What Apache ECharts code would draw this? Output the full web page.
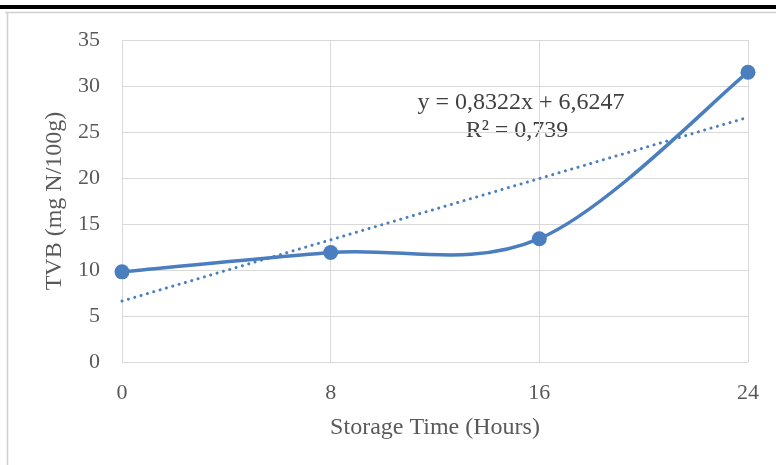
<!DOCTYPE html>
<html><head><meta charset="utf-8">
<script src="https://cdn.jsdelivr.net/npm/echarts@6/dist/echarts.min.js"></script>
<style>html,body{margin:0;padding:0;background:#fff}#c{width:776px;height:465px}</style>
</head><body><div id="c"></div>
<script>
var hours = [0, 8, 16, 24];
var tvb = [9.8, 11.9, 13.4, 31.5];
var trendX = [0, 24];
var trendY = [6.6247, 26.5975];
var xTicks = [0, 8, 16, 24];
var eqText = 'y = 0,8322x + 6,6247';
var r2Text = 'R² = 0,739';

var chart = echarts.init(document.getElementById('c'));
var font = '"Liberation Serif", "Times New Roman", serif';
var blue = '#4a7ebf';
var pts = hours.map(function(x, i){return [x, tvb[i]];});

function renderSmooth(params, api) {
  var i = params.dataIndex, n = pts.length;
  if (i >= n - 1) return null;
  function c(k){ k = Math.max(0, Math.min(n - 1, k)); return api.coord(pts[k]); }
  var p0 = c(i - 1), p1 = c(i), p2 = c(i + 1), p3 = c(i + 2);
  return {
    type: 'bezierCurve',
    shape: {
      x1: p1[0], y1: p1[1], x2: p2[0], y2: p2[1],
      cpx1: p1[0] + (p2[0] - p0[0]) / 6, cpy1: p1[1] + (p2[1] - p0[1]) / 6,
      cpx2: p2[0] - (p3[0] - p1[0]) / 6, cpy2: p2[1] - (p3[1] - p1[1]) / 6
    },
    style: {stroke: blue, lineWidth: 3.5, fill: 'none', lineCap: 'round'}
  };
}

chart.setOption({
  animation: false,
  backgroundColor: '#fff',
  grid: {left: 122, right: 28, top: 40, bottom: 103},
  xAxis: {
    type: 'value', min: 0, max: 24, interval: 8,
    name: 'Storage Time (Hours)', nameLocation: 'middle', nameGap: 54,
    nameTextStyle: {fontFamily: font, fontSize: 24, color: '#595959'},
    axisLine: {show: false}, axisTick: {show: false},
    axisLabel: {fontFamily: font, fontSize: 22, color: '#595959', margin: 20},
    splitLine: {show: true, lineStyle: {color: '#d9d9d9', width: 1}}
  },
  yAxis: {
    type: 'value', min: 0, max: 35, interval: 5,
    name: 'TVB (mg N/100g)', nameLocation: 'middle', nameGap: 55,
    nameTextStyle: {fontFamily: font, fontSize: 24, color: '#595959'},
    axisLine: {show: false}, axisTick: {show: false},
    axisLabel: {fontFamily: font, fontSize: 22, color: '#595959', margin: 22},
    splitLine: {show: true, lineStyle: {color: '#d9d9d9', width: 1}}
  },
  series: [
    {
      type: 'line', data: trendX.map(function(x, i){return [x, trendY[i]];}),
      symbol: 'none', lineStyle: {color: blue, width: 3, type: [0.1, 6.5], cap: 'round'}, z: 1
    },
    {
      type: 'custom', data: pts, renderItem: renderSmooth, z: 2
    },
    {
      type: 'line', data: pts, symbol: 'circle', symbolSize: 15,
      itemStyle: {color: blue}, lineStyle: {width: 0, opacity: 0}, z: 3
    }
  ],
  graphic: [
    {type: 'rect', shape: {x: 0, y: 5, width: 776, height: 4}, style: {fill: '#000'}},
    {type: 'line', shape: {x1: 5, y1: 12.5, x2: 776, y2: 12.5}, style: {stroke: '#d0d0d0', lineWidth: 1.5}},
    {type: 'line', shape: {x1: 7.5, y1: 12, x2: 7.5, y2: 465}, style: {stroke: '#d0d0d0', lineWidth: 1.5}},
    {type: 'text', x: 521, y: 103, style: {text: eqText, font: '24px ' + font, fill: '#404040', textAlign: 'center', textVerticalAlign: 'middle'}},
    {type: 'text', x: 517, y: 131, style: {text: r2Text, font: '24px ' + font, fill: '#404040', textAlign: 'center', textVerticalAlign: 'middle'}}
  ]
});
</script></body></html>
